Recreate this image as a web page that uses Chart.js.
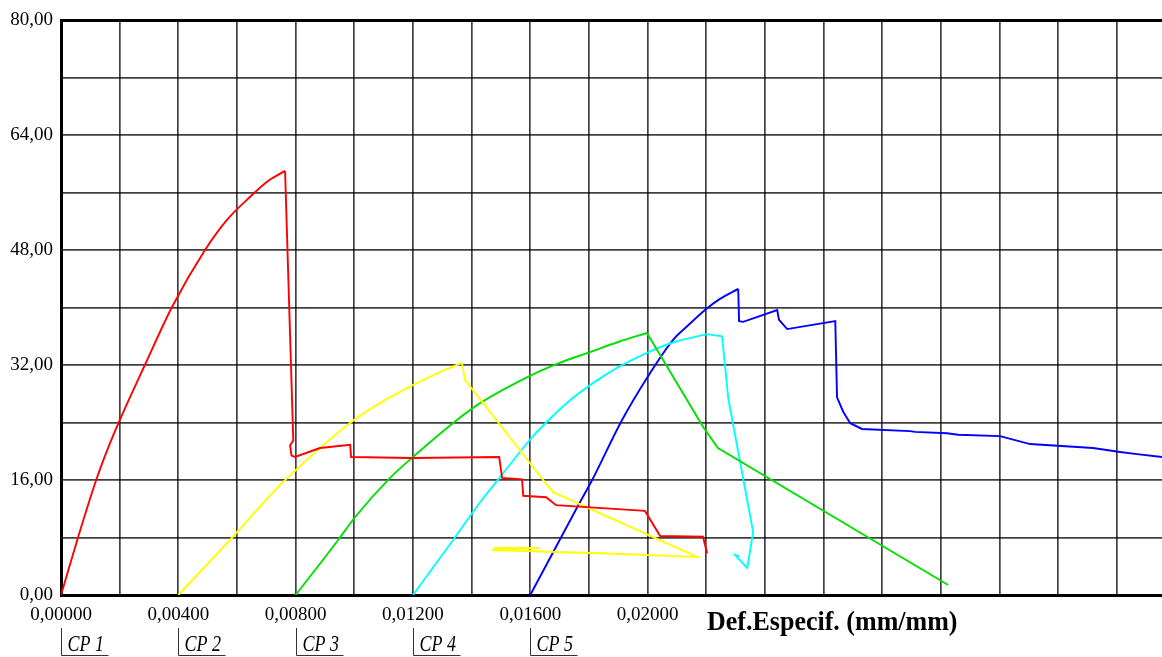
<!DOCTYPE html>
<html>
<head>
<meta charset="utf-8">
<script src="https://cdn.jsdelivr.net/npm/chart.js@4/dist/chart.umd.min.js"></script>
<style>
  body { margin: 0; background: #fff; }
  #wrap { width: 1162px; height: 657px; position: relative; }
</style>
</head>
<body>
<div id="wrap"><canvas id="chart"></canvas></div>
<script>
// CP 1 (red)
const cp1Strain = [0, 0.00058, 0.00120, 0.00160, 0.00201, 0.00286, 0.00379, 0.00491, 0.00566, 0.00645, 0.00706, 0.00764, 0.00792, 0.00781, 0.00786, 0.00798, 0.00883, 0.00986, 0.00989, 0.0120, 0.01494, 0.01504, 0.01572, 0.01576, 0.01654, 0.01688, 0.01991, 0.02043, 0.02189, 0.02203];
const cp1Load   = [0, 8.0, 16.0, 20.4, 24.4, 32.0, 40.1, 48.0, 52.2, 55.4, 57.6, 59.0, 21.5, 20.8, 19.4, 19.2, 20.45, 20.9, 19.2, 19.06, 19.2, 16.3, 16.1, 13.8, 13.6, 12.5, 11.7, 8.2, 8.1, 5.8];
// CP 2 (yellow)
const cp2Strain = [0.004, 0.00576, 0.00747, 0.00801, 0.00883, 0.00999, 0.0110, 0.0120, 0.01292, 0.01367, 0.01378, 0.01644, 0.01678, 0.02169, 0.01838, 0.01473, 0.0148, 0.01633, 0.01478];
const cp2Load   = [0, 7.65, 15.3, 17.4, 20.45, 24.35, 27.0, 29.2, 31.0, 32.3, 29.9, 16.0, 14.3, 5.3, 5.8, 6.26, 6.54, 6.54, 6.4];
// CP 3 (green)
const cp3Strain = [0.008, 0.00945, 0.01003, 0.01122, 0.0120, 0.0135, 0.01429, 0.01599, 0.01700, 0.01804, 0.01900, 0.01998, 0.02189, 0.0224, 0.03025];
const cp3Load   = [0, 7.65, 10.85, 16.3, 19.2, 24.35, 26.7, 30.5, 32.3, 33.8, 35.2, 36.45, 23.4, 20.45, 1.39];
// CP 4 (cyan)
const cp4Strain = [0.012, 0.01337, 0.01429, 0.01497, 0.01599, 0.01657, 0.01730, 0.01804, 0.01900, 0.01998, 0.02100, 0.02203, 0.02254, 0.02275, 0.0236, 0.0234, 0.02298, 0.02312];
const cp4Load   = [0, 7.65, 12.9, 16.4, 21.6, 24.1, 26.9, 29.2, 31.7, 33.7, 35.3, 36.3, 36.0, 27.4, 8.77, 3.76, 5.57, 5.43];
// CP 5 (blue)
const cp5Strain = [0.016, 0.0176, 0.01811, 0.01913, 0.01998, 0.02087, 0.02135, 0.02203, 0.02247, 0.02309, 0.02312, 0.02326, 0.02442, 0.02448, 0.02476, 0.02640, 0.02646, 0.02667, 0.02691, 0.02731, 0.02895, 0.02912, 0.03021, 0.03059, 0.03202, 0.03304, 0.03519, 0.03611, 0.03669, 0.03754];
const cp5Load   = [0, 12.2, 16.0, 24.35, 30.2, 35.5, 37.4, 39.9, 41.2, 42.6, 38.1, 38.0, 39.65, 38.3, 37.0, 38.1, 27.5, 25.5, 23.9, 23.1, 22.8, 22.7, 22.5, 22.3, 22.1, 21.0, 20.45, 19.9, 19.6, 19.2];

const seriesNames  = ['CP 1', 'CP 2', 'CP 3', 'CP 4', 'CP 5'];
const seriesStart  = [0, 0.004, 0.008, 0.012, 0.016];
const seriesColors = ['#ff0000', '#ffff00', '#00e000', '#00ffff', '#0000ff'];

const xLabelled = [0, 0.004, 0.008, 0.012, 0.016, 0.020];
const yLabelled = [0, 16, 32, 48, 64, 80];
const axisTitle = 'Def.Especif. (mm/mm)';

function toPoints(xs, ys) {
  return xs.map((x, i) => ({ x: x, y: ys[i] }));
}

const allSeries = [[cp1Strain, cp1Load], [cp2Strain, cp2Load], [cp3Strain, cp3Load], [cp4Strain, cp4Load], [cp5Strain, cp5Load]];

// loading branch (up to the peak) is drawn smooth, the post-peak branch straight
const datasets = [];
allSeries.forEach((s, i) => {
  const pts = toPoints(s[0], s[1]);
  const peak = s[1].indexOf(Math.max(...s[1]));
  const base = { label: seriesNames[i], showLine: true, borderColor: seriesColors[i], borderWidth: 1.9, pointRadius: 0, fill: false };
  datasets.push({ ...base, data: pts.slice(0, peak + 1), cubicInterpolationMode: 'monotone' });
  datasets.push({ ...base, data: pts.slice(peak), tension: 0 });
});

const comma = (v, d) => v.toFixed(d).replace('.', ',');

const extraText = {
  id: 'extraText',
  afterDraw(chart) {
    const c = chart.ctx;
    const xs = chart.scales.x;
    c.save();
    c.fillStyle = '#000';
    c.strokeStyle = '#333';
    c.lineWidth = 1;
    c.textBaseline = 'alphabetic';
    seriesStart.forEach((v, i) => {
      const px = Math.round(xs.getPixelForValue(v)) + 0.5;
      c.beginPath();
      c.moveTo(px, 628);
      c.lineTo(px, 655.5);
      c.lineTo(px + 47, 655.5);
      c.stroke();
      c.save();
      c.translate(px + 6, 651);
      c.scale(1, 1.25);
      c.font = 'italic 18px "Liberation Serif"';
      c.fillText(seriesNames[i], 0, 0);
      c.restore();
    });
    c.save();
    c.translate(707, 630);
    c.scale(1, 1.08);
    c.font = 'bold 26px "Liberation Serif"';
    c.fillText(axisTitle, 0, 0);
    c.restore();
    c.restore();
  }
};

new Chart(document.getElementById('chart'), {
  type: 'scatter',
  data: { datasets: datasets },
  options: {
    responsive: true,
    maintainAspectRatio: false,
    animation: false,
    layout: { padding: { top: 20, right: 0, left: 0, bottom: 0 } },
    plugins: { legend: { display: false }, tooltip: { enabled: false } },
    scales: {
      x: {
        type: 'linear',
        min: 0,
        max: 0.03754,
        afterFit: s => { s.height = 62; },
        afterBuildTicks: s => {
          const t = [];
          for (let k = 0; k <= 18; k++) t.push({ value: k * 0.002 });
          s.ticks = t;
        },
        border: { display: true, color: '#000', width: 3 },
        grid: {
          drawTicks: false,
          color: 'rgba(0,0,0,0.75)',
          lineWidth: c => (c.tick && c.tick.value === 0 ? 3 : 1.7)
        },
        ticks: {
          autoSkip: false,
          maxRotation: 0,
          padding: 9,
          color: '#000',
          font: { family: '"Liberation Serif"', size: 19 },
          callback: v => (xLabelled.some(l => Math.abs(l - v) < 1e-9) ? comma(v, 5) : '')
        }
      },
      y: {
        type: 'linear',
        min: 0,
        max: 80,
        afterFit: s => { s.width = 61; },
        border: { display: true, color: '#000', width: 3 },
        grid: {
          drawTicks: false,
          color: c => (c.tick && c.tick.value === 80 ? '#000' : 'rgba(0,0,0,0.75)'),
          lineWidth: c => (c.tick && c.tick.value === 80 ? 3 : 1.7)
        },
        ticks: {
          stepSize: 8,
          autoSkip: false,
          padding: 8,
          color: '#000',
          font: { family: '"Liberation Serif"', size: 19 },
          callback: v => (yLabelled.includes(v) ? comma(v, 2) : '')
        }
      }
    }
  },
  plugins: [extraText]
});
</script>
</body>
</html>
